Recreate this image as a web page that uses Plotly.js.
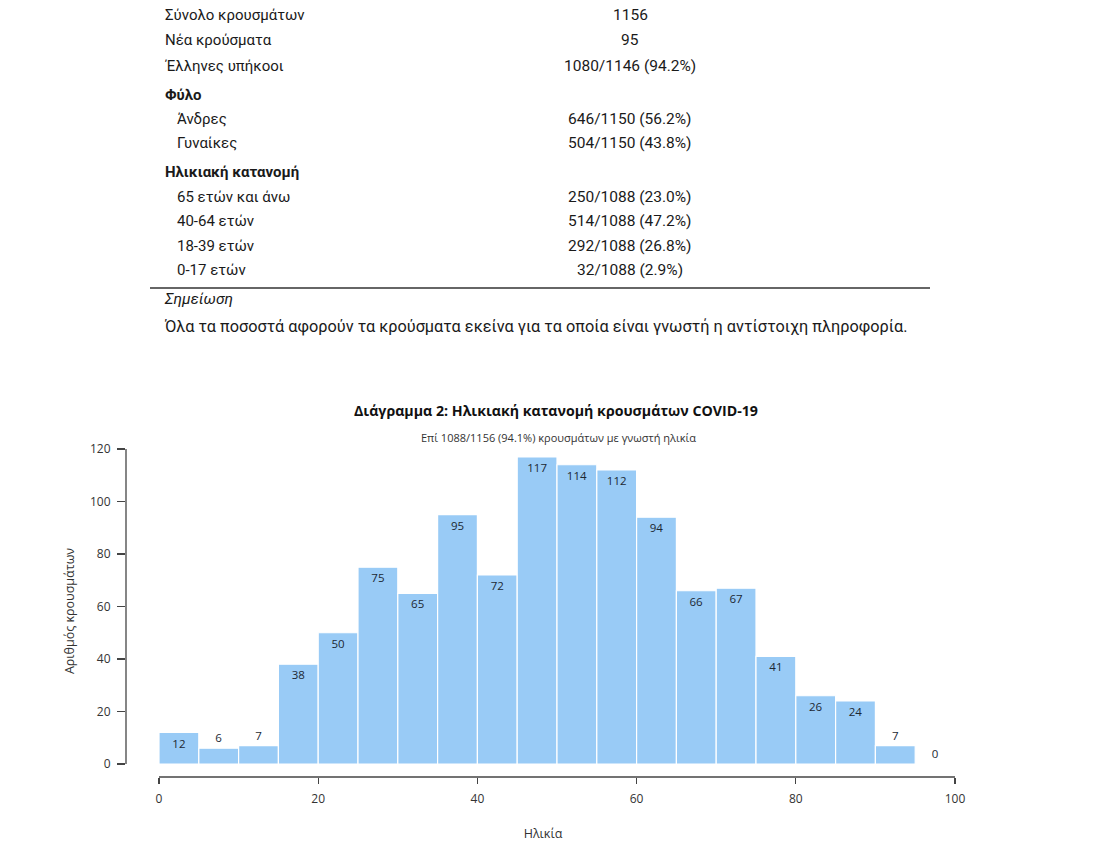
<!DOCTYPE html>
<html><head><meta charset="utf-8">
<script src="https://cdn.plot.ly/plotly-3.0.1.min.js"></script>
<style>html,body{margin:0;padding:0;background:#fff;}#chart{width:1102px;height:863px;}</style>
</head><body><div id="chart"></div>
<script>
// ---- data ----
const binStarts = [0,5,10,15,20,25,30,35,40,45,50,55,60,65,70,75,80,85,90,95];
const binWidth = 5;
const caseCounts = [12,6,7,38,50,75,65,95,72,117,114,112,94,66,67,41,26,24,7,0];
const xTicks = [0,20,40,60,80,100];
const yTicks = [0,20,40,60,80,100,120];

const tableLabels = ["Σύνολο κρουσμάτων","Νέα κρούσματα","Έλληνες υπήκοοι","Φύλο","Άνδρες","Γυναίκες","Ηλικιακή κατανομή","65 ετών και άνω","40-64 ετών","18-39 ετών","0-17 ετών"];
const tableValues = ["1156","95","1080/1146 (94.2%)","","646/1150 (56.2%)","504/1150 (43.8%)","","250/1088 (23.0%)","514/1088 (47.2%)","292/1088 (26.8%)","32/1088 (2.9%)"];
const tableKind = ["row","row","row","head","sub","sub","head","sub","sub","sub","sub"];
const tableRowY = [15,40,66,95,119,143,172,197,221,246,270];
const noteTitle = "Σημείωση";
const noteText = "Όλα τα ποσοστά αφορούν τα κρούσματα εκείνα για τα οποία είναι γνωστή η αντίστοιχη πληροφορία.";

const chartTitle = "Διάγραμμα 2: Ηλικιακή κατανομή κρουσμάτων COVID-19";
const chartSubtitle = "Επί 1088/1156 (94.1%) κρουσμάτων με γνωστή ηλικία";
const xTitle = "Ηλικία";
const yTitle = "Αριθμός κρουσμάτων";

// ---- layout geometry ----
const W = 1102, H = 863;
const L = 126, R = 960, T = 445, B = 777;
const pw = R - L, ph = B - T;
const px = x => (x - L) / pw;
const py = y => (B - y) / ph;
// x: value 0 at 159px, 100 at 955px ; y: 0 at 764px, 120 at 449px
const xs = (955 - 159) / 100, ys = (764 - 449) / 120;
const xRange = [(L - 159) / xs, (R - 159) / xs];
const yRange = [-(B - 764) / ys, (764 - T) / ys];

const tableFont = "Roboto, 'Noto Sans', sans-serif";
const chartFont = "'Open Sans', 'Noto Sans', sans-serif";

const annotations = [];
tableLabels.forEach((lab, i) => {
  const k = tableKind[i];
  annotations.push({
    xref: 'paper', yref: 'paper', x: px(k === 'sub' ? 175 : 163), y: py(tableRowY[i]),
    xanchor: 'left', yanchor: 'middle', showarrow: false,
    text: k === 'head' ? '<b>' + lab + '</b>' : lab,
    font: {family: tableFont, size: 15, color: '#1a1a1a'}
  });
  if (tableValues[i]) {
    annotations.push({
      xref: 'paper', yref: 'paper', x: px(630), y: py(tableRowY[i]),
      xanchor: 'center', yanchor: 'middle', showarrow: false,
      text: tableValues[i], font: {family: tableFont, size: 15.5, color: '#1a1a1a'}
    });
  }
});
annotations.push({xref:'paper',yref:'paper',x:px(162),y:py(299),xanchor:'left',yanchor:'middle',showarrow:false,
  text:'<i>'+noteTitle+'</i>',font:{family:tableFont,size:15.5,color:'#1a1a1a'}});
annotations.push({xref:'paper',yref:'paper',x:px(162),y:py(326),xanchor:'left',yanchor:'middle',showarrow:false,
  text:noteText,font:{family:tableFont,size:16.3,color:'#1a1a1a'}});
annotations.push({xref:'paper',yref:'paper',x:px(558),y:py(437),xanchor:'center',yanchor:'middle',showarrow:false,
  text:chartSubtitle,font:{family:chartFont,size:11,color:'#333'}});

const shapes = [
  {type:'line',xref:'paper',yref:'paper',x0:px(150),x1:px(930),y0:py(288),y1:py(288),line:{color:'#333',width:1.5}},
  {type:'line',xref:'x',yref:'paper',x0:xTicks[0],x1:xTicks[xTicks.length-1],y0:0,y1:0,line:{color:'#444',width:1.3}},
  {type:'line',xref:'paper',yref:'y',x0:0,x1:0,y0:yTicks[0],y1:yTicks[yTicks.length-1],line:{color:'#444',width:1.3}}
];

const textPos = caseCounts.map(v => v >= 10 ? 'inside' : 'outside');

const trace = {
  type: 'bar',
  x: binStarts.map(s => s + binWidth / 2),
  y: caseCounts,
  width: binWidth,
  marker: {color: '#99CBF6', line: {color: '#ffffff', width: 1.2}},
  text: caseCounts.map(String),
  textposition: textPos,
  insidetextanchor: 'end',
  constraintext: 'none',
  cliponaxis: false,
  textfont: {family: chartFont, size: 11.5, color: '#1c2833'},
  hoverinfo: 'x+y'
};

const layout = {
  width: W, height: H,
  margin: {l: L, r: W - R, t: T, b: H - B, pad: 0},
  paper_bgcolor: '#fff', plot_bgcolor: '#fff',
  showlegend: false,
  bargap: 0,
  font: {family: chartFont, color: '#333'},
  title: {text: '<b>' + chartTitle + '</b>', x: 556 / W, xref: 'container', xanchor: 'center',
    y: 1 - 411 / H, yref: 'container', yanchor: 'middle', font: {family: chartFont, size: 14.2, color: '#111'}},
  xaxis: {range: xRange, tickvals: xTicks, ticktext: xTicks.map(String), ticks: 'outside', ticklen: 6, tickwidth: 1.2,
    tickcolor: '#444', showline: false, showgrid: false, zeroline: false,
    tickfont: {family: chartFont, size: 12, color: '#333'}, ticklabelstandoff: 5,
    title: {text: xTitle, standoff: 22, font: {family: chartFont, size: 12.5, color: '#333'}}, automargin: false},
  yaxis: {range: yRange, tickvals: yTicks, ticktext: yTicks.map(String), ticks: 'outside', ticklen: 8, tickwidth: 1.2,
    tickcolor: '#444', showline: false, showgrid: false, zeroline: false,
    tickfont: {family: chartFont, size: 12, color: '#333'}, ticklabelstandoff: 4,
    title: {text: yTitle, standoff: 12, font: {family: chartFont, size: 12.5, color: '#333'}}, automargin: false},
  annotations: annotations,
  shapes: shapes
};

Plotly.newPlot('chart', [trace], layout, {displayModeBar: false, staticPlot: true});
</script>
</body></html>
